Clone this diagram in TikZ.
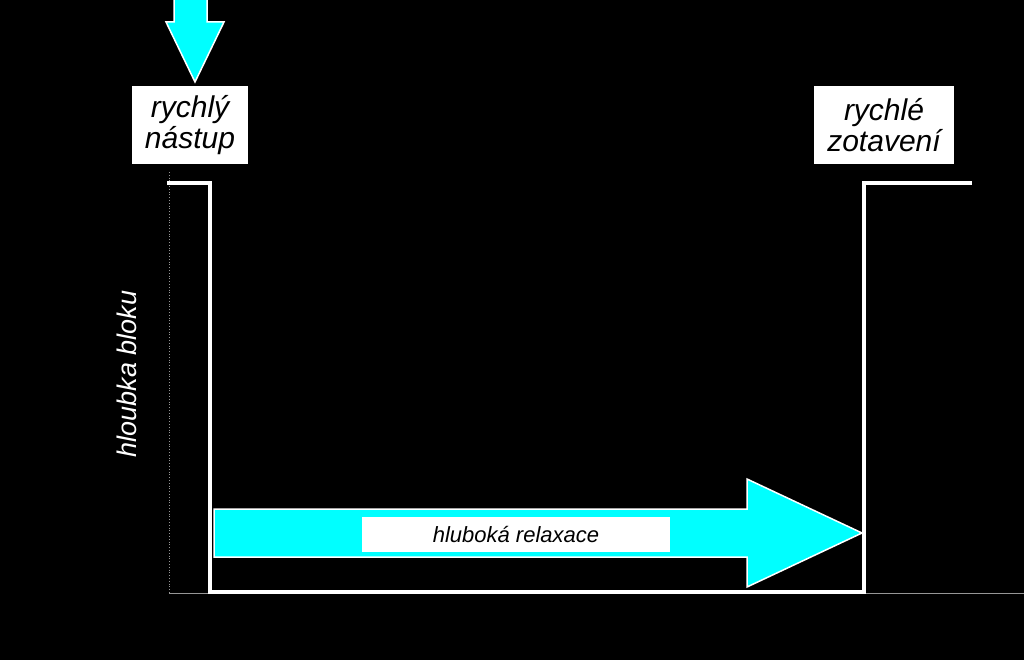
\documentclass[tikz,border=0pt]{standalone}
\usepackage{fontspec}
\setmainfont{Liberation Sans}
\definecolor{aqua}{RGB}{0,255,255}
\definecolor{axisgray}{RGB}{150,150,150}
\begin{document}
\begin{tikzpicture}[x=1pt,y=-1pt,
  labelbox/.style={fill=white,text=black,inner sep=0pt,align=center,font=\fontsize{30}{31}\selectfont\itshape},
  trace/.style={draw=white,line width=3.5pt,line join=miter},
  blockarrow/.style={fill=aqua,draw=white,line width=1.5pt,line join=miter}]
\useasboundingbox (0,0) rectangle (1024,660);
\fill[black] (0,0) rectangle (1024,660);
% axes
\coordinate (ytop) at (169,172);
\coordinate (origin) at (169,593);
\coordinate (xend) at (1024,593);
\draw[axisgray,line width=0.8pt,dotted] (ytop) -- (origin);
\draw[axisgray,line width=1pt] (origin) -- (xend);
% trace
\coordinate (t0) at (167,183);
\coordinate (t1) at (210,183);
\coordinate (t2) at (210,592);
\coordinate (t3) at (864,592);
\coordinate (t4) at (864,183);
\coordinate (t5) at (972,183);
\draw[trace] (t0) -- (t1) -- (t2) -- (t3) -- (t4) -- (t5);
% top arrow
\draw[blockarrow] (174,-3) -- (207,-3) -- (207,22) -- (224,22) -- (195,82) -- (166,22) -- (174,22) -- cycle;
% labels
\node[labelbox,minimum width=116pt,minimum height=78pt] (onset) at (190,125) {rychlý\\nástup};
\node[labelbox,minimum width=140pt,minimum height=78pt] (recovery) at (884,125) {rychlé\\zotavení};
% relaxation arrow
\draw[blockarrow] (214,509) -- (747,509) -- (747,479) -- (862,533) -- (747,587) -- (747,557) -- (214,557) -- cycle;
\node[fill=white,text=black,inner sep=0pt,minimum width=308pt,minimum height=35pt,font=\fontsize{22}{24}\selectfont\itshape] (relax) at (516,534.5) {hluboká relaxace};
% axis label
\node[text=white,rotate=90,font=\fontsize{27}{31}\selectfont\itshape] (depth) at (127,374) {hloubka bloku};
\end{tikzpicture}
\end{document}
